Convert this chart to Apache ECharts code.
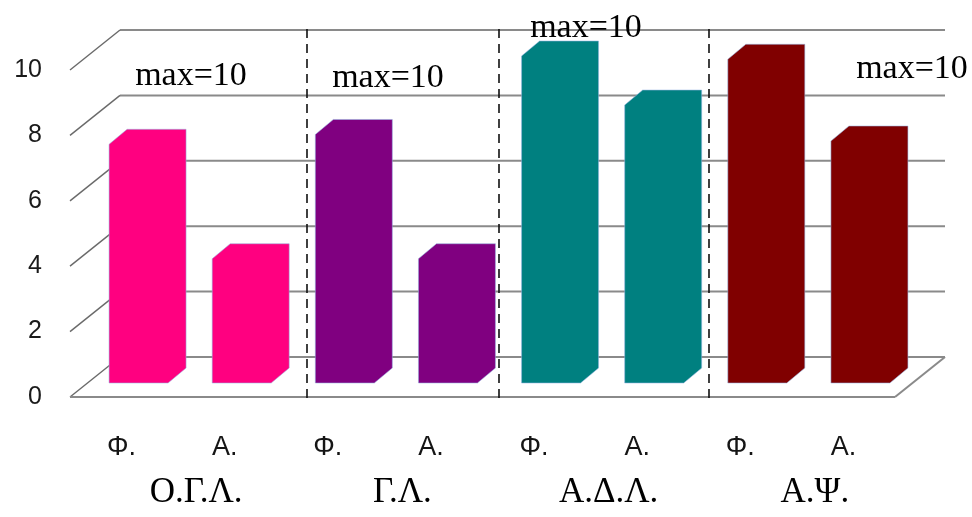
<!DOCTYPE html>
<html>
<head>
<meta charset="utf-8">
<style>
  html, body { margin: 0; padding: 0; background: #ffffff; }
  #chart { width: 972px; height: 517px; }
</style>
<script src="https://cdn.jsdelivr.net/npm/echarts@6/dist/echarts.min.js"></script>
</head>
<body>
<div id="chart"></div>
<script>
// Scores per unit: Φ. and Α. for each of the four groups
const barLabels = ['Φ.', 'Α.', 'Φ.', 'Α.', 'Φ.', 'Α.', 'Φ.', 'Α.'];
const groupLabels = ['Ο.Γ.Λ.', 'Γ.Λ.', 'Α.Δ.Λ.', 'Α.Ψ.'];
const scores = [7.3, 3.8, 7.6, 3.8, 10, 8.5, 9.9, 7.4];
const yTicks = [0, 2, 4, 6, 8, 10];
const maxNotes = ['max=10', 'max=10', 'max=10', 'max=10'];

// one fill per group
const groupPalette = ['#ff0080', '#800080', '#008080', '#800000'];

// oblique "3D" look: room depth, bar plane offset, bar depth
const ROOM_DX = 50, ROOM_DY = 40;
const PLANE_DX = 17, PLANE_DY = 14;
const BAR_DX = 18, BAR_DY = 15;
const FACE_W = 59;

const chart = echarts.init(document.getElementById('chart'), null, { renderer: 'canvas' });

const option = {
  animation: false,
  backgroundColor: '#ffffff',
  grid: { left: 70, top: 70, width: 825, height: 327, containLabel: false },
  xAxis: [
    {
      type: 'category',
      data: barLabels,
      axisLine: { show: false },
      axisTick: { show: false },
      splitLine: { show: false },
      axisLabel: {
        margin: 37,
        fontFamily: '"Liberation Sans", Arial, sans-serif',
        fontSize: 27,
        color: '#151515'
      }
    },
    {
      type: 'category',
      data: groupLabels,
      position: 'bottom',
      axisLine: { show: false },
      axisTick: { show: false },
      splitLine: { show: false },
      axisLabel: {
        margin: 78,
        fontFamily: '"Liberation Serif", "Times New Roman", serif',
        fontSize: 35,
        color: '#000000',
        padding: [0, 0, 0, 46]
      }
    }
  ],
  yAxis: {
    type: 'value',
    min: 0,
    max: 10,
    interval: 2,
    axisLine: { show: false },
    axisTick: { show: false },
    splitLine: { show: false },
    axisLabel: {
      margin: 28,
      fontFamily: '"Liberation Sans", Arial, sans-serif',
      fontSize: 25,
      color: '#1a1a1a'
    }
  },
  series: [
    {
      // back wall gridlines, left wall diagonals and the floor
      name: 'frame',
      type: 'custom',
      silent: true,
      clip: false,
      z: 1,
      data: yTicks.map(v => [0, v]),
      renderItem(params, api) {
        const cs = params.coordSys;
        const v = api.value(1);
        const y = api.coord([0, v])[1];
        const x0 = cs.x, x1 = cs.x + cs.width;
        const children = [
          {
            type: 'line',
            shape: { x1: x0 + ROOM_DX, y1: y - ROOM_DY, x2: x1 + ROOM_DX, y2: y - ROOM_DY },
            style: { stroke: '#8a8a8a', lineWidth: 2 }
          },
          {
            type: 'line',
            shape: { x1: x0, y1: y, x2: x0 + ROOM_DX, y2: y - ROOM_DY },
            style: { stroke: '#6a6a6a', lineWidth: 1.5 }
          }
        ];
        if (v === 0) {
          children.push(
            {
              type: 'line',
              shape: { x1: x0, y1: y, x2: x1, y2: y },
              style: { stroke: '#8a8a8a', lineWidth: 2 }
            },
            {
              type: 'line',
              shape: { x1: x1, y1: y, x2: x1 + ROOM_DX, y2: y - ROOM_DY },
              style: { stroke: '#8a8a8a', lineWidth: 2 }
            }
          );
        }
        return { type: 'group', children };
      }
    },
    {
      name: 'scores',
      type: 'custom',
      clip: false,
      z: 3,
      data: scores.map((v, i) => [i, v]),
      renderItem(params, api) {
        const i = api.value(0);
        const base = api.coord([i, 0]);
        const top = api.coord([i, api.value(1)]);
        const xl = base[0] + PLANE_DX - FACE_W / 2;
        const xr = xl + FACE_W;
        const yb = base[1] - PLANE_DY;
        const yt = top[1] - PLANE_DY;
        const fill = groupPalette[Math.floor(i / 2)];
        return {
          type: 'polygon',
          shape: {
            points: [
              [xl, yb], [xl, yt], [xl + BAR_DX, yt - BAR_DY],
              [xr + BAR_DX, yt - BAR_DY], [xr + BAR_DX, yb - BAR_DY], [xr, yb]
            ]
          },
          style: { fill, stroke: 'rgba(150,180,225,0.55)', lineWidth: 1 }
        };
      }
    }
  ],
  graphic: [
    // dashed separators between the groups
    ...[307, 499, 709].map(x => ({
      type: 'line',
      z: 10,
      shape: { x1: x, y1: 29, x2: x, y2: 398 },
      style: { stroke: '#111111', lineWidth: 1.6, lineDash: [9, 6] }
    })),
    // "max" notes above each group
    ...[[191, 76], [388, 78], [586, 28], [912, 69]].map((p, k) => ({
      type: 'text',
      z: 12,
      x: p[0],
      y: p[1],
      style: {
        text: maxNotes[k],
        font: '34px "Liberation Serif", "Times New Roman", serif',
        fill: '#000000',
        textAlign: 'center',
        textVerticalAlign: 'middle'
      }
    }))
  ]
};

chart.setOption(option);
</script>
</body>
</html>
